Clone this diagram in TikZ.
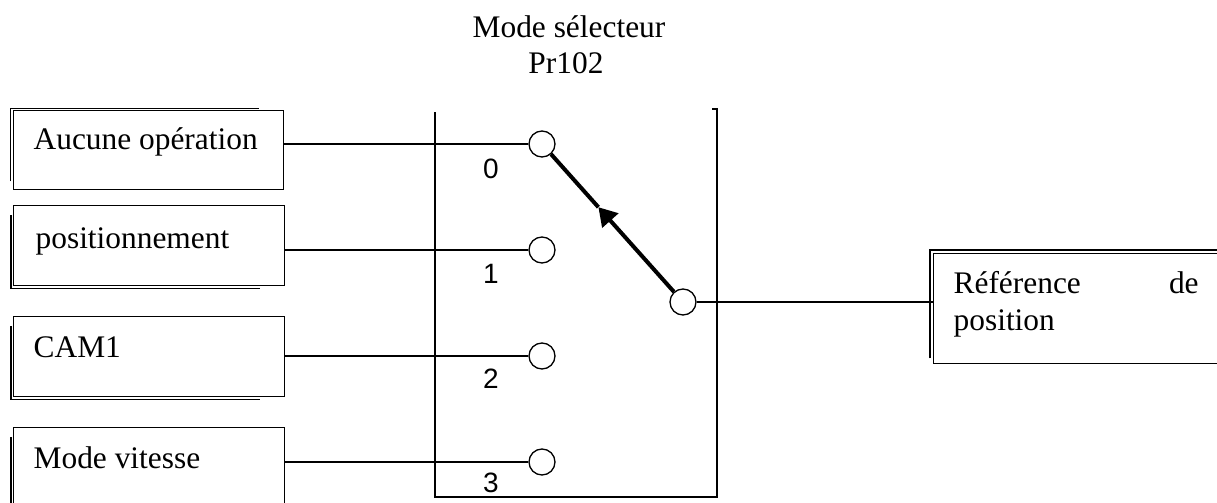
\documentclass[tikz,border=0pt]{standalone}
\usepackage{fontspec}
\setmainfont{Liberation Serif}
\newfontfamily\digitfont{Liberation Sans}
\usetikzlibrary{arrows.meta,calc}
\begin{document}
\begin{tikzpicture}[x=0.5pt,y=-0.5pt,line width=0.65pt,
  inbox/.style={draw,minimum width=135.25pt,minimum height=40pt,inner sep=0,anchor=north west},
  txt/.style={inner sep=0,anchor=base west,font=\fontsize{15.7}{18.5}\selectfont},
  ttl/.style={inner sep=0,anchor=base,font=\fontsize{15.7}{18.5}\selectfont},
  port/.style={circle,draw,fill=white,minimum size=13pt,inner sep=0},
  digit/.style={inner sep=0,anchor=base,font=\digitfont\fontsize{14}{16}\selectfont},
  lever/.style={line width=2pt}]
\useasboundingbox (0,0) rectangle (1217,503);

% title
\node[ttl] (t1) at (569,37) {Mode sélecteur};
\node[ttl] (t2) at (566,73) {Pr102};

% input boxes
\node[inbox,minimum height=39.5pt] (b1) at (12.5,110) {};
\node[inbox] (b2) at (13,205) {};
\node[inbox] (b3) at (13,316) {};
\node[inbox] (b4) at (13,427) {};
\draw ($(b1.south west)+(-2,-9)$) -- ($(b1.north west)+(-2,-1.5)$) -- ($(b1.north east)+(-25,-1.5)$);
\foreach \b in {b2,b3,b4}{
  \draw ($(\b.north west)+(-2,10)$) -- ($(\b.south west)+(-2,2)$) -- ($(\b.south east)+(-25,2)$);
}
\node[txt] (l1) at (33,149) {Aucune opération};
\node[txt] (l2) at (35,248) {positionnement};
\node[txt] (l3) at (33,357) {CAM1};
\node[txt] (l4) at (33,468) {Mode vitesse};

% selector frame
\draw (712,109) -- (717,109) -- (717,497) -- (435,497) -- (435,112);

% contacts
\node[port] (c0) at (542,144) {};
\node[port] (c1) at (542,250) {};
\node[port] (c2) at (542,356) {};
\node[port] (c3) at (542,462) {};
\node[port] (p) at (683,302) {};

\draw (b1.east |- c0) -- (c0);
\draw (b2.east |- c1) -- (c1);
\draw (b3.east |- c2) -- (c2);
\draw (b4.east |- c3) -- (c3);

\node[digit] (n0) at (491,178) {0};
\node[digit] (n1) at (491,283) {1};
\node[digit] (n2) at (491,388) {2};
\node[digit] (n3) at (491,492) {3};

% lever
\coordinate (am) at ($(p)!0.6!(c0)$);
\draw[lever,-{Triangle[length=9pt,width=10.5pt]}] (p) -- (am);
\draw[lever] (am) -- (c0);

% output box
\node[draw,minimum width=150pt,minimum height=55pt,inner sep=0,anchor=north west] (r) at (933,253) {};
\draw ($(r.south west)+(-3,-6)$) -- ($(r.north west)+(-3,-3)$) -- ($(r.north east)+(-10,-3)$);
\node[txt,align=left] (rt) at (953,330) {\makebox[122.5pt][l]{Référence\hfill de}\\position};
\draw (p) -- (p -| r.west);
\end{tikzpicture}
\end{document}
